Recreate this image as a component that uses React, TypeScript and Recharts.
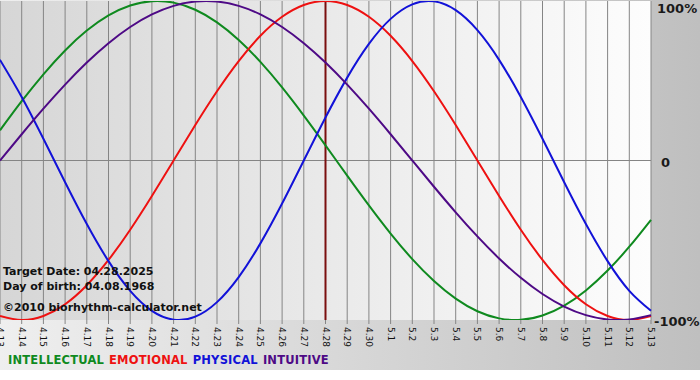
import { LineChart, Line, XAxis, YAxis, CartesianGrid, ReferenceLine } from 'recharts'

// days shown on the axis, 4.13 .. 5.13
const days = ['4.13','4.14','4.15','4.16','4.17','4.18','4.19','4.20','4.21','4.22','4.23','4.24','4.25','4.26','4.27','4.28','4.29','4.30',
  '5.1','5.2','5.3','5.4','5.5','5.6','5.7','5.8','5.9','5.10','5.11','5.12','5.13']

const intellectual = [0.1893,0.3717,0.5406,0.6901,0.8146,0.9096,0.9718,0.9989,0.9898,0.9450,0.8660,0.7557,0.6182,0.4582,0.2817,0.0951,
  -0.0951,-0.2817,-0.4582,-0.6182,-0.7557,-0.8660,-0.9450,-0.9898,-0.9989,-0.9718,-0.9096,-0.8146,-0.6901,-0.5406,-0.3717]
const emotional = [-0.9749,-1.0000,-0.9749,-0.9010,-0.7818,-0.6235,-0.4339,-0.2225,0,0.2225,0.4339,0.6235,0.7818,0.9010,0.9749,1.0000,
  0.9749,0.9010,0.7818,0.6235,0.4339,0.2225,0,-0.2225,-0.4339,-0.6235,-0.7818,-0.9010,-0.9749,-1.0000,-0.9749]
const physical = [0.6311,0.3984,0.1362,-0.1362,-0.3984,-0.6311,-0.8170,-0.9423,-0.9977,-0.9791,-0.8879,-0.7308,-0.5196,-0.2698,0,0.2698,
  0.5196,0.7308,0.8879,0.9791,0.9977,0.9423,0.8170,0.6311,0.3984,0.1362,-0.1362,-0.3984,-0.6311,-0.8170,-0.9423]
const intuitive = [0,0.1646,0.3247,0.4759,0.6142,0.7357,0.8372,0.9158,0.9694,0.9966,0.9966,0.9694,0.9158,0.8372,0.7357,0.6142,
  0.4759,0.3247,0.1646,0,-0.1646,-0.3247,-0.4759,-0.6142,-0.7357,-0.8372,-0.9158,-0.9694,-0.9966,-0.9966,-0.9694]

const targetDay = '4.28'
const pctTicks = [1, 0, -1]
const pctLabels = ['100%', '0', '-100%']

const series = [
  { key: 'intellectual', name: 'INTELLECTUAL', color: '#0f8a1f' },
  { key: 'emotional', name: 'EMOTIONAL', color: '#ee1111' },
  { key: 'physical', name: 'PHYSICAL', color: '#1212d8' },
  { key: 'intuitive', name: 'INTUITIVE', color: '#4e0a86' },
]

const data = days.map((d, i) => ({
  day: d,
  intellectual: intellectual[i],
  emotional: emotional[i],
  physical: physical[i],
  intuitive: intuitive[i],
}))

const FONT = '"DejaVu Sans", Verdana, sans-serif'

function DayTick({ x, y, payload }: any) {
  return (
    <text x={x + 1} y={y} transform={`rotate(90 ${x} ${y})`} textAnchor="start"
          dominantBaseline="central" fontSize={9} fontFamily={FONT} fill="#111">
      {payload.value}
    </text>
  )
}

function PctTick({ x, y, payload }: any) {
  const i = pctTicks.indexOf(payload.value)
  const dy = payload.value === 1 ? 7 : payload.value === 0 ? 2 : 1
  const dx = payload.value === 0 ? 4 : payload.value === -1 ? -3 : 0
  return (
    <text x={x + dx} y={y + dy} textAnchor="start" dominantBaseline="central"
          fontSize={13} fontWeight="bold" fontFamily={FONT} fill="#1a1a1a">
      {pctLabels[i]}
    </text>
  )
}

export default function App() {
  return (
    <div style={{
      position: 'absolute', left: 0, top: 0, width: 700, height: 380,
      background: 'linear-gradient(to bottom, rgba(255,255,255,0) 370px, #fff 370px), linear-gradient(to right, #efefef, #bfbfbf)',
    }}>
      <LineChart width={700} height={380} data={data} margin={{ top: 1, right: 0, left: 0, bottom: 30 }}>
        <defs>
          <linearGradient id="plotBg" x1="0" y1="0" x2="1" y2="0">
            <stop offset="0%" stopColor="#d6d6d6" />
            <stop offset="100%" stopColor="#fdfdfd" />
          </linearGradient>
        </defs>
        <CartesianGrid horizontal={false} stroke="#858585" fill="url(#plotBg)" />
        <XAxis dataKey="day" interval={0} height={30} tickSize={4} tickMargin={2}
               axisLine={false} tickLine={{ stroke: '#858585' }} tick={<DayTick />} />
        <YAxis orientation="right" width={49} domain={[-1, 1]} ticks={pctTicks} interval={0}
               allowDataOverflow axisLine={false} tickLine={false} tickSize={0} tickMargin={6}
               tick={<PctTick />} />
        <ReferenceLine y={0} stroke="#858585" />
        <ReferenceLine x={targetDay} stroke="#7a0f0f" strokeWidth={2} />
        {series.map(s => (
          <Line key={s.key} dataKey={s.key} type="natural" stroke={s.color} strokeWidth={2}
                dot={false} isAnimationActive={false} />
        ))}
      </LineChart>

      <div style={{ position: 'absolute', left: 3, top: 264, fontFamily: FONT, fontWeight: 'bold',
                    fontSize: 11, lineHeight: '15px', color: '#111', pointerEvents: 'none' }}>
        <div>Target Date: 04.28.2025</div>
        <div>Day of birth: 04.08.1968</div>
        <div style={{ fontSize: 11, marginTop: 6 }}>©2010 biorhythm-calculator.net</div>
      </div>

      <div style={{ position: 'absolute', left: 8, top: 353, fontFamily: FONT, fontWeight: 'bold',
                    fontSize: 11.5, letterSpacing: 0.2, whiteSpace: 'nowrap' }}>
        {series.map(s => (
          <span key={s.key} style={{ color: s.color, marginRight: 5 }}>{s.name}</span>
        ))}
      </div>
    </div>
  )
}
